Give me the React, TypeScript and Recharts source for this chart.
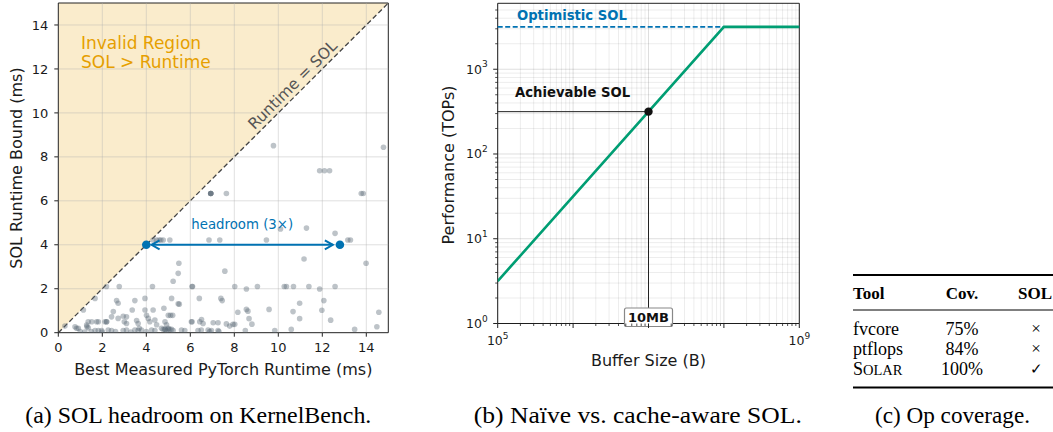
import React from 'react';
import {
  ComposedChart,
  Scatter,
  Area,
  Line,
  XAxis,
  YAxis,
  ReferenceLine,
  ReferenceDot,
  ReferenceArea,
} from 'recharts';

const FONT = '"DejaVu Sans", Verdana, sans-serif';
const SERIF = '"Liberation Serif", "Times New Roman", serif';
const BLUE = '#0072B2';
const GREEN = '#009E73';
const ORANGE = '#E69F00';

// ---------------- Panel (a) data ----------------
const runtimeTicks = [0, 2, 4, 6, 8, 10, 12, 14];
const runtimeGrid = [2, 4, 6, 8, 10, 12, 14];
// [best measured PyTorch runtime (ms), SOL runtime bound (ms)]
const kernelPoints: [number, number][] = [
  [9.78, 8.51], [14.78, 8.44], [11.88, 7.37], [12.1, 7.37], [12.33, 7.37],
  [6.93, 6.33], [6.93, 6.33], [6.93, 6.33], [6.93, 6.33], [7.64, 6.33], [13.77, 6.33], [13.86, 6.33],
  [10.1, 4.72], [11.28, 4.76], [12.58, 4.52],
  [4.31, 4.22], [4.46, 4.22], [4.58, 4.22], [4.66, 4.22], [4.77, 4.22], [5.07, 4.22], [6.85, 4.22],
  [7.34, 4.22], [9.46, 4.22], [13.16, 4.22], [13.28, 4.22],
  [11.17, 3.35], [13.99, 3.16], [5.48, 3.16], [5.45, 2.7], [7.57, 2.8], [5.22, 2.34],
  [2.19, 2.1], [2.77, 2.1], [4.28, 2.1], [6.08, 2.1], [6.1, 2.1], [8.02, 2.1], [8.55, 1.99], [9.05, 2.1],
  [10.27, 2.1], [10.37, 2.1], [10.69, 2.1], [11.39, 2.1], [11.88, 1.99], [12.58, 2.1],
  [1.67, 1.56], [3.94, 1.56], [5.15, 1.56], [6.41, 1.56], [7.39, 1.56], [7.45, 1.46],
  [2.65, 1.46], [2.72, 1.34], [3.48, 1.46], [5.45, 1.32], [5.5, 1.3], [10.97, 1.34], [12.07, 1.46],
  [1.14, 1.03], [2.5, 0.96], [3.36, 1.03], [3.94, 1.03], [4.31, 1.03], [4.8, 1.11], [8.16, 0.93],
  [8.55, 1.06], [8.62, 0.98], [9.58, 1.06], [10.67, 0.96], [11.98, 1.02], [14.57, 0.93],
  [5.0, 0.79], [5.1, 0.79], [5.2, 0.79], [4.01, 0.79], [2.42, 0.72], [2.95, 0.75], [3.1, 0.72],
  [2.72, 0.65], [4.09, 0.65],
  [8.67, 0.64], [8.8, 0.39], [10.97, 0.64], [12.38, 0.57], [6.51, 0.6], [6.08, 0.5],
  [1.36, 0.5], [1.52, 0.5], [1.74, 0.5], [1.82, 0.5], [2.12, 0.5], [2.2, 0.5], [2.19, 0.5], [3.0, 0.5],
  [3.1, 0.42], [3.56, 0.55], [3.63, 0.42], [4.16, 0.5], [4.39, 0.58], [4.47, 0.36], [4.85, 0.5],
  [4.92, 0.36], [6.05, 0.5], [6.43, 0.5], [6.58, 0.42], [7.04, 0.45], [7.26, 0.45], [7.64, 0.4],
  [7.79, 0.3], [7.94, 0.38], [8.02, 0.38],
  [0.3, 0.3], [0.76, 0.27], [0.91, 0.2], [1.29, 0.35], [1.3, 0.27], [1.36, 0.22], [1.67, 0.1],
  [1.82, 0.1], [1.97, 0.1], [2.27, 0.12], [2.42, 0.1], [2.95, 0.1], [3.1, 0.12], [3.48, 0.12],
  [3.63, 0.1], [3.68, 0.2], [3.78, 0.12], [4.24, 0.12], [4.39, 0.1],
  [4.69, 0.2], [4.77, 0.15], [4.85, 0.15], [4.85, 0.15], [4.92, 0.1], [5.0, 0.2], [5.0, 0.15],
  [5.07, 0.15], [5.15, 0.15], [5.22, 0.1],
  [5.6, 0.12], [5.75, 0.1], [6.35, 0.1], [6.5, 0.12], [6.81, 0.12], [6.96, 0.1], [7.26, 0.1],
  [8.5, 0.1], [9.84, 0.1], [10.59, 0.15], [13.47, 0.15], [14.48, 0.27], [6.88, 0.05], [7.3, 0.05],
  [1.0, 0.05], [1.2, 0.03], [1.5, 0.05], [2.0, 0.03], [2.6, 0.05], [3.3, 0.03], [4.0, 0.05], [0.83, 0.2],
];
const invalidBand = [
  { x: 0, band: [0, 15] },
  { x: 15, band: [15, 15] },
];
const headroomEnds = [
  { x: 4, y: 4 },
  { x: 12.8, y: 4 },
];
const headroomArrow = { from: 4.24, to: 12.48, level: 4 };

// ---------------- Panel (b) data ----------------
const bufferDecades = [1e5, 1e6, 1e7, 1e8, 1e9];
const bufferLabeled = [1e5, 1e9];
const bufferMinor = [1e5, 1e6, 1e7, 1e8].flatMap((d) => [2, 3, 4, 5, 6, 7, 8, 9].map((m) => m * d));
const perfDecades = [1, 10, 100, 1000];
const perfMinor = [1, 10, 100, 1000]
  .flatMap((d) => [2, 3, 4, 5, 6, 7, 8, 9].map((m) => m * d))
  .filter((v) => v < 6000);
const rooflinePoints = [
  { size: 1e5, tops: 3.16 },
  { size: 1e8, tops: 3162 },
  { size: 1e9, tops: 3162 },
];
const optimisticSOL = 3162;
const achievable = { size: 1e7, tops: 316 };

// ---------------- Panel (c) data ----------------
const tools = ['fvcore', 'ptflops', 'SOLAR'];
const coverage = ['75%', '84%', '100%'];
const solSupport = ['×', '×', '✓'];

const kernelData = kernelPoints.map(([x, y]) => ({ x, y }));
const rooflineData = rooflinePoints;

const isDecade = (v: number) => Math.abs(Math.log10(v) - Math.round(Math.log10(v))) < 1e-9;

const BufferTick = (props: any) => {
  const { x, y, payload } = props;
  const v = payload.value;
  const major = isDecade(v);
  const labeled = bufferLabeled.some((b) => Math.abs(b - v) < 1);
  const len = major ? 4.5 : 2.5;
  return (
    <g>
      <line x1={x} x2={x} y1={y} y2={y + len} stroke="#222" strokeWidth={major ? 1 : 0.8} />
      {labeled && (
        <text x={x} y={y + 21.5} textAnchor="middle" fontSize={12.5} fontFamily={FONT} fill="#1a1a1a">
          10
          <tspan dy={-6.5} fontSize={9}>
            {Math.round(Math.log10(v))}
          </tspan>
        </text>
      )}
    </g>
  );
};

const PerfTick = (props: any) => {
  const { x, y, payload } = props;
  const v = payload.value;
  const major = isDecade(v);
  const len = major ? 4.5 : 2.5;
  return (
    <g>
      <line x1={x} x2={x - len} y1={y} y2={y} stroke="#222" strokeWidth={major ? 1 : 0.8} />
      {major && (
        <text x={x - 10} y={y + 4.5} textAnchor="end" fontSize={12.5} fontFamily={FONT} fill="#1a1a1a">
          10
          <tspan dy={-6.5} fontSize={9}>
            {Math.round(Math.log10(v))}
          </tspan>
        </text>
      )}
    </g>
  );
};

const dotShape = (r: number, fill: string) => (p: any) => <circle cx={p.cx} cy={p.cy} r={r} fill={fill} />;

const SolScatterPanel = () => (
  <ComposedChart width={400} height={365} margin={{ top: 3, left: 8.3, right: 11.7, bottom: 2.3 }}>
    <XAxis
      type="number"
      dataKey="x"
      domain={[0, 15]}
      ticks={runtimeTicks}
      interval={0}
      allowDataOverflow
      height={30}
      tickSize={4}
      tickMargin={6}
      axisLine={false}
      tickLine={{ stroke: '#222' }}
      tick={{ fontSize: 13, fill: '#1a1a1a', fontFamily: FONT }}
    />
    <YAxis
      type="number"
      dataKey="y"
      domain={[0, 15]}
      ticks={runtimeTicks}
      interval={0}
      allowDataOverflow
      width={50}
      tickSize={4}
      tickMargin={6}
      axisLine={false}
      tickLine={{ stroke: '#222' }}
      tick={{ fontSize: 13, fill: '#1a1a1a', fontFamily: FONT }}
    />
    <Area
      data={invalidBand}
      dataKey="band"
      type="linear"
      stroke="none"
      fill={ORANGE}
      fillOpacity={0.2}
      isAnimationActive={false}
    />
    {runtimeGrid.map((v) => (
      <ReferenceLine key={'gx' + v} x={v} stroke="#b0b0b0" strokeOpacity={0.4} strokeWidth={1} />
    ))}
    {runtimeGrid.map((v) => (
      <ReferenceLine key={'gy' + v} y={v} stroke="#b0b0b0" strokeOpacity={0.4} strokeWidth={1} />
    ))}
    <ReferenceLine
      segment={[
        { x: 0, y: 0 },
        { x: 15, y: 15 },
      ]}
      stroke="#444"
      strokeWidth={1.3}
      strokeDasharray="5 2.8"
    />
    <Scatter
      data={kernelData}
      fill="#5b6875"
      fillOpacity={0.4}
      shape={(p: any) => <circle cx={p.cx} cy={p.cy} r={2.8} fill="#5b6875" fillOpacity={0.4} />}
      isAnimationActive={false}
    />
    <ReferenceLine
      segment={[
        { x: headroomArrow.from, y: headroomArrow.level },
        { x: headroomArrow.to, y: headroomArrow.level },
      ]}
      stroke={BLUE}
      strokeWidth={2}
    />
    <ReferenceDot
      x={headroomArrow.from}
      y={headroomArrow.level}
      r={1}
      shape={(p: any) => (
        <polyline
          points={`${p.cx + 8},${p.cy - 4.5} ${p.cx},${p.cy} ${p.cx + 8},${p.cy + 4.5}`}
          fill="none"
          stroke={BLUE}
          strokeWidth={2}
        />
      )}
    />
    <ReferenceDot
      x={headroomArrow.to}
      y={headroomArrow.level}
      r={1}
      shape={(p: any) => (
        <polyline
          points={`${p.cx - 8},${p.cy - 4.5} ${p.cx},${p.cy} ${p.cx - 8},${p.cy + 4.5}`}
          fill="none"
          stroke={BLUE}
          strokeWidth={2}
        />
      )}
    />
    <Scatter data={headroomEnds} fill={BLUE} shape={dotShape(4.3, BLUE)} isAnimationActive={false} />
    <ReferenceDot
      x={8.36}
      y={4.94}
      r={1}
      shape={(p: any) => (
        <text x={p.cx} y={p.cy} textAnchor="middle" dominantBaseline="central" fontSize={13.3} fontFamily={FONT} fill={BLUE}>
          headroom (3×)
        </text>
      )}
    />
    <ReferenceDot
      x={1.03}
      y={13.18}
      r={1}
      shape={(p: any) => (
        <text x={p.cx} y={p.cy} textAnchor="start" dominantBaseline="central" fontSize={17} fontFamily={FONT} fill={ORANGE}>
          <tspan x={p.cx}>Invalid Region</tspan>
          <tspan x={p.cx} dy={19}>
            SOL &gt; Runtime
          </tspan>
        </text>
      )}
    />
    <ReferenceDot
      x={10.66}
      y={11.27}
      r={1}
      shape={(p: any) => (
        <text
          x={p.cx}
          y={p.cy}
          transform={`rotate(-45 ${p.cx} ${p.cy})`}
          textAnchor="middle"
          dominantBaseline="central"
          fontSize={15.5}
          fontFamily={FONT}
          fill="#555"
        >
          Runtime = SOL
        </text>
      )}
    />
    <ReferenceArea x1={0} x2={15} y1={0} y2={15} fill="none" stroke="#222" strokeWidth={1} ifOverflow="visible" />
  </ComposedChart>
);

const RooflinePanel = () => (
  <ComposedChart width={385} height={350} margin={{ top: 3.3, left: 7.7, right: 15.7, bottom: 1.5 }}>
    <XAxis
      type="number"
      dataKey="size"
      scale="log"
      domain={[1e5, 1e9]}
      ticks={[...bufferDecades, ...bufferMinor]}
      interval={0}
      allowDataOverflow
      height={25}
      tickSize={0}
      tickMargin={0}
      axisLine={false}
      tickLine={false}
      tick={<BufferTick />}
    />
    <YAxis
      type="number"
      dataKey="tops"
      scale="log"
      domain={[1, 6000]}
      ticks={[...perfDecades, ...perfMinor]}
      interval={0}
      allowDataOverflow
      width={60}
      tickSize={0}
      tickMargin={0}
      axisLine={false}
      tickLine={false}
      tick={<PerfTick />}
    />
    {bufferMinor.map((v) => (
      <ReferenceLine key={'bx' + v} x={v} stroke="#000" strokeOpacity={0.075} strokeWidth={1} />
    ))}
    {bufferDecades.map((v) => (
      <ReferenceLine key={'bX' + v} x={v} stroke="#000" strokeOpacity={0.13} strokeWidth={1} />
    ))}
    {perfMinor.map((v) => (
      <ReferenceLine key={'py' + v} y={v} stroke="#000" strokeOpacity={0.075} strokeWidth={1} />
    ))}
    {perfDecades.map((v) => (
      <ReferenceLine key={'pY' + v} y={v} stroke="#000" strokeOpacity={0.13} strokeWidth={1} />
    ))}
    <ReferenceLine y={optimisticSOL} stroke={BLUE} strokeWidth={1.8} strokeDasharray="5 2.5" />
    <ReferenceLine
      segment={[
        { x: 1e5, y: achievable.tops },
        { x: achievable.size, y: achievable.tops },
      ]}
      stroke="#222"
      strokeWidth={1}
    />
    <ReferenceLine
      segment={[
        { x: achievable.size, y: 1 },
        { x: achievable.size, y: achievable.tops },
      ]}
      stroke="#222"
      strokeWidth={1}
    />
    <Line
      data={rooflineData}
      dataKey="tops"
      type="linear"
      stroke={GREEN}
      strokeWidth={2.6}
      dot={false}
      activeDot={false}
      isAnimationActive={false}
    />
    <ReferenceDot x={achievable.size} y={achievable.tops} r={4.2} shape={dotShape(4.2, '#111')} />
    <ReferenceDot
      x={1.8e5}
      y={4295}
      r={1}
      shape={(p: any) => (
        <text x={p.cx} y={p.cy} dominantBaseline="central" fontSize={13.2} fontWeight="bold" fontFamily={FONT} fill={BLUE}>
          Optimistic SOL
        </text>
      )}
    />
    <ReferenceDot
      x={1.7e5}
      y={525}
      r={1}
      shape={(p: any) => (
        <text x={p.cx} y={p.cy} dominantBaseline="central" fontSize={13.2} fontWeight="bold" fontFamily={FONT} fill="#111">
          Achievable SOL
        </text>
      )}
    />
    <ReferenceArea x1={1e5} x2={1e9} y1={1} y2={6000} fill="none" stroke="#222" strokeWidth={1} ifOverflow="visible" />
    <ReferenceDot
      x={achievable.size}
      y={1}
      r={1}
      ifOverflow="visible"
      shape={(p: any) => (
        <g>
          <rect x={p.cx - 24} y={p.cy - 15.5} width={48} height={18.5} rx={2} fill="#fff" stroke="#888" strokeWidth={1.2} />
          <text x={p.cx} y={p.cy - 6.2} textAnchor="middle" dominantBaseline="central" fontSize={13} fontWeight="bold" fontFamily={FONT} fill="#111">
            10MB
          </text>
        </g>
      )}
    />
  </ComposedChart>
);

const Overlay = () => (
  <svg width={1053} height={432} style={{ position: 'absolute', left: 0, top: 0, pointerEvents: 'none' }}>
    {/* axis titles */}
    <text x={16} y={168} transform="rotate(-90 16 168)" textAnchor="middle" dominantBaseline="central" fontSize={16} fontFamily={FONT} fill="#1a1a1a">
      SOL Runtime Bound (ms)
    </text>
    <text x={223.3} y={375} textAnchor="middle" fontSize={16} fontFamily={FONT} fill="#1a1a1a">
      Best Measured PyTorch Runtime (ms)
    </text>
    <text x={448} y={165} transform="rotate(-90 448 165)" textAnchor="middle" dominantBaseline="central" fontSize={16} fontFamily={FONT} fill="#1a1a1a">
      Performance (TOPs)
    </text>
    <text x={648.5} y={366} textAnchor="middle" fontSize={16} fontFamily={FONT} fill="#1a1a1a">
      Buffer Size (B)
    </text>

    {/* table (c) */}
    <line x1={853} x2={1053} y1={275} y2={275} stroke="#000" strokeWidth={1.8} />
    <text x={853} y={299} fontSize={17} fontWeight="bold" fontFamily={SERIF} fill="#000">
      Tool
    </text>
    <text x={962} y={299} textAnchor="middle" fontSize={17} fontWeight="bold" fontFamily={SERIF} fill="#000">
      Cov.
    </text>
    <text x={1018} y={299} fontSize={17} fontWeight="bold" fontFamily={SERIF} fill="#000">
      SOL
    </text>
    <line x1={853} x2={1053} y1={310} y2={310} stroke="#000" strokeWidth={1} />
    {tools.map((t, i) => (
      <g key={t}>
        <text x={853} y={335 + i * 20} fontSize={18} fontFamily={SERIF} fill="#000">
          {t === 'SOLAR' ? (
            <>
              S<tspan fontSize={14.5}>OLAR</tspan>
            </>
          ) : (
            t
          )}
        </text>
        <text x={962} y={335 + i * 20} textAnchor="middle" fontSize={18} fontFamily={SERIF} fill="#000">
          {coverage[i]}
        </text>
        <text
          x={1036}
          y={334 + i * 20}
          textAnchor="middle"
          fontSize={solSupport[i] === '✓' ? 15 : 17}
          fontFamily={SERIF}
          fill="#000"
        >
          {solSupport[i]}
        </text>
      </g>
    ))}
    <line x1={853} x2={1053} y1={387.5} y2={387.5} stroke="#000" strokeWidth={1.8} />

    {/* captions */}
    <text x={198.3} y={423} textAnchor="middle" fontSize={22.5} fontFamily={SERIF} fill="#000" textLength={346} lengthAdjust="spacingAndGlyphs">
      (a) SOL headroom on KernelBench.
    </text>
    <text x={637.8} y={423} textAnchor="middle" fontSize={22.5} fontFamily={SERIF} fill="#000" textLength={328} lengthAdjust="spacingAndGlyphs">
      (b) Naïve vs. cache-aware SOL.
    </text>
    <text x={952.5} y={423} textAnchor="middle" fontSize={22.5} fontFamily={SERIF} fill="#000" textLength={155} lengthAdjust="spacingAndGlyphs">
      (c) Op coverage.
    </text>
  </svg>
);

export default function App() {
  return (
    <div style={{ position: 'absolute', left: 0, top: 0, width: 1053, height: 432, background: '#fff', overflow: 'hidden' }}>
      <div style={{ position: 'absolute', left: 0, top: 0 }}>
        <SolScatterPanel />
      </div>
      <div style={{ position: 'absolute', left: 430, top: 0 }}>
        <RooflinePanel />
      </div>
      <Overlay />
    </div>
  );
}
